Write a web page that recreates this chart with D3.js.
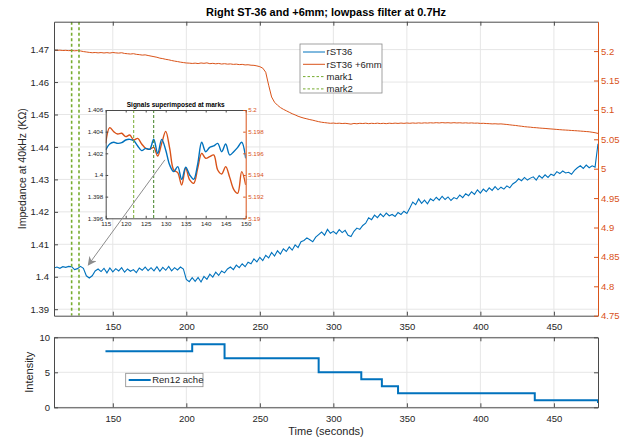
<!DOCTYPE html>
<html><head><meta charset="utf-8">
<script src="https://cdn.jsdelivr.net/npm/d3@7"></script>
<style>body{margin:0;background:#fff}svg{display:block;font-family:"Liberation Sans",Arial,sans-serif}</style>
</head><body><svg id="c" width="634" height="442"></svg>
<script>
// ---------- data ----------
const sampleStart = 110, sampleStep = 2; // seconds
const rST36 = [
1.4027,1.4030,1.4026,1.4031,1.4029,1.4032,1.4031,1.4022,1.4025,1.4032,
1.4026,1.4003,1.3996,1.4003,1.4018,1.4024,1.4016,1.4026,1.4012,1.4027,
1.4015,1.4025,1.4018,1.4028,1.4014,1.4024,1.4017,1.4022,1.4013,1.4027,
1.4020,1.4030,1.4019,1.4028,1.4018,1.4031,1.4017,1.4029,1.4020,1.4032,
1.4018,1.4028,1.4021,1.4030,1.4024,1.3992,1.3985,1.3997,1.3986,1.3998,
1.3984,1.4001,1.3992,1.4008,1.3999,1.4014,1.4004,1.4018,1.4012,1.4024,
1.4030,1.4022,1.4036,1.4028,1.4040,1.4031,1.4045,1.4040,1.4055,1.4046,
1.4060,1.4050,1.4066,1.4058,1.4075,1.4064,1.4080,1.4070,1.4086,1.4078,
1.4092,1.4082,1.4098,1.4090,1.4108,1.4112,1.4120,1.4114,1.4108,1.4122,
1.4130,1.4138,1.4128,1.4146,1.4134,1.4140,1.4132,1.4145,1.4136,1.4143,
1.4128,1.4124,1.4140,1.4150,1.4146,1.4158,1.4165,1.4182,1.4176,1.4190,
1.4182,1.4194,1.4185,1.4196,1.4188,1.4192,1.4186,1.4198,1.4192,1.4202,
1.4195,1.4212,1.4230,1.4222,1.4240,1.4226,1.4236,1.4225,1.4240,1.4234,
1.4245,1.4236,1.4248,1.4238,1.4246,1.4235,1.4244,1.4240,1.4252,1.4244,
1.4256,1.4250,1.4262,1.4254,1.4268,1.4258,1.4270,1.4262,1.4274,1.4266,
1.4278,1.4268,1.4276,1.4270,1.4280,1.4274,1.4286,1.4292,1.4302,1.4296,
1.4306,1.4298,1.4304,1.4308,1.4298,1.4312,1.4304,1.4314,1.4306,1.4316,
1.4312,1.4324,1.4318,1.4326,1.4320,1.4322,1.4316,1.4328,1.4336,1.4342,
1.4334,1.4344,1.4336,1.4342,1.4338,1.4410];
const rST36plus6 = [
5.2015,5.2012,5.2016,5.2010,5.2013,5.2008,5.2011,5.2005,5.2009,5.2003,
5.1992,5.1985,5.1978,5.1972,5.1976,5.1970,5.1975,5.1968,5.1974,5.1967,
5.1976,5.1970,5.1966,5.1972,5.1960,5.1955,5.1950,5.1956,5.1945,5.1940,
5.1932,5.1936,5.1925,5.1915,5.1905,5.1895,5.1880,5.1872,5.1860,5.1852,
5.1840,5.1830,5.1822,5.1812,5.1805,5.1798,5.1795,5.1790,5.1795,5.1788,
5.1798,5.1792,5.1800,5.1786,5.1792,5.1784,5.1790,5.1780,5.1786,5.1778,
5.1782,5.1774,5.1778,5.1770,5.1774,5.1765,5.1768,5.1760,5.1758,5.1748,
5.1735,5.1710,5.1640,5.1420,5.1220,5.1130,5.1080,5.1040,5.1010,5.0985,
5.0960,5.0935,5.0915,5.0892,5.0875,5.0860,5.0848,5.0835,5.0825,5.0812,
5.0800,5.0790,5.0784,5.0778,5.0772,5.0776,5.0770,5.0774,5.0768,5.0772,
5.0766,5.0758,5.0770,5.0764,5.0772,5.0768,5.0774,5.0766,5.0772,5.0768,
5.0774,5.0767,5.0772,5.0766,5.0774,5.0769,5.0775,5.0770,5.0776,5.0771,
5.0777,5.0772,5.0778,5.0773,5.0779,5.0774,5.0780,5.0776,5.0781,5.0777,
5.0783,5.0778,5.0784,5.0779,5.0782,5.0777,5.0783,5.0778,5.0781,5.0776,
5.0780,5.0775,5.0779,5.0774,5.0776,5.0770,5.0772,5.0768,5.0766,5.0762,
5.0764,5.0760,5.0762,5.0757,5.0752,5.0746,5.0740,5.0735,5.0728,5.0722,
5.0715,5.0710,5.0706,5.0700,5.0697,5.0692,5.0688,5.0685,5.0680,5.0676,
5.0672,5.0668,5.0664,5.0660,5.0657,5.0654,5.0650,5.0647,5.0644,5.0640,
5.0636,5.0632,5.0628,5.0620,5.0612,5.0600];

const insetTimes = [115,116,117,118,119,120,121,122,123,124,125,126,127,128,129,130,131,132,133,134,135,136,137,138,139,140,141,142,143,144,145,146,147,148,149,150];
const insetBlue = [1.40231,1.40286,1.40302,1.40292,1.40298,1.40323,1.40329,1.40317,1.40268,1.40225,1.40246,1.40237,1.40330,1.40200,1.40329,1.40231,1.40092,1.40031,1.40077,1.39960,1.40071,1.40000,1.39960,1.40101,1.40302,1.40215,1.40255,1.40268,1.40292,1.40215,1.40286,1.40185,1.40215,1.40255,1.40302,1.40154];
const insetOrange = [5.19692,5.19837,5.19800,5.19778,5.19785,5.19754,5.19769,5.19723,5.19738,5.19686,5.19646,5.19637,5.19655,5.19575,5.19692,5.19803,5.19646,5.19446,5.19422,5.19308,5.19462,5.19354,5.19323,5.19462,5.19600,5.19554,5.19569,5.19585,5.19446,5.19409,5.19477,5.19378,5.19268,5.19231,5.19431,5.19308];

const markTimes = [122,127];
const markNames = ["mark1","mark2"];
const seriesNames = ["rST36","rST36 +6mm"];

const acheTimes = [145,204,226,290,319,333,344,437,480];
const acheLevels = [8,9,7,5,4,3,2,1,0.6];

const xTickVals = [150,200,250,300,350,400,450];
const leftTickVals = [1.39,1.40,1.41,1.42,1.43,1.44,1.45,1.46,1.47];
const rightTickVals = [4.75,4.8,4.85,4.9,4.95,5,5.05,5.1,5.15,5.2];
const insetXTicks = [115,120,125,130,135,140,145,150];
const insetLTicks = [1.396,1.398,1.4,1.402,1.404,1.406];
const insetRTicks = [5.19,5.192,5.194,5.196,5.198,5.2];
const intensityTicks = [0,5,10];

// arrow annotation (data coords: inset start, main end)
const arrowFrom = {t:129.8, v:1.4014};
const arrowTo = {t:133.3, v:1.4036};

// ---------- styles ----------
const BLUE="#0072BD", ORANGE="#D95319", GREEN="#77AC30", DGREEN="#3E7F22";
const AX="#4a4a4a", TXT="#262626", GRID="#e6e6e6";
const fmt = d => String(+d.toFixed(4));

const svg = d3.select("#c");
const defs = svg.append("defs");

// ---------- main panel ----------
const M = {l:54, r:598, t:21.7, b:315.7};
const x = d3.scaleLinear([110,480],[M.l,M.r]);
const yL = d3.scaleLinear([1.388,1.4786],[M.b,M.t]);
const yR = d3.scaleLinear([4.75,5.25],[M.b,M.t]);
const times = rST36.map((_,i)=>sampleStart+i*sampleStep);

defs.append("clipPath").attr("id","cm").append("rect")
  .attr("x",M.l).attr("y",M.t).attr("width",M.r-M.l).attr("height",M.b-M.t);

const grid = svg.append("g");
grid.append("g").selectAll("line").data(xTickVals).join("line")
  .attr("x1",d=>x(d)).attr("x2",d=>x(d)).attr("y1",M.t).attr("y2",M.b).attr("stroke",GRID);
grid.append("g").selectAll("line").data(leftTickVals).join("line")
  .attr("x1",M.l).attr("x2",M.r).attr("y1",d=>yL(d)).attr("y2",d=>yL(d)).attr("stroke",GRID);

const plot = svg.append("g").attr("clip-path","url(#cm)");
plot.append("path").datum(rST36plus6.map((v,i)=>[times[i],v]))
  .attr("fill","none").attr("stroke",ORANGE).attr("stroke-width",1)
  .attr("d",d3.line().x(d=>x(d[0])).y(d=>yR(d[1])));
plot.append("path").datum(rST36.map((v,i)=>[times[i],v]))
  .attr("fill","none").attr("stroke",BLUE).attr("stroke-width",1.1)
  .attr("d",d3.line().x(d=>x(d[0])).y(d=>yL(d[1])));
plot.append("g").selectAll("line").data(markTimes).join("line")
  .attr("x1",d=>x(d)).attr("x2",d=>x(d)).attr("y1",M.t).attr("y2",M.b)
  .attr("stroke",GREEN).attr("stroke-width",1.6).attr("stroke-dasharray","3,2.5");

function styleAxis(g,color,fs){
  g.select(".domain").attr("stroke",color);
  g.selectAll(".tick line").attr("stroke",color);
  g.selectAll(".tick text").attr("fill",color===AX?TXT:color).attr("font-size",fs)
   .attr("font-family","Liberation Sans, Arial, sans-serif");
}
styleAxis(svg.append("g").attr("transform",`translate(0,${M.b})`)
  .call(d3.axisBottom(x).tickValues(xTickVals).tickFormat(fmt).tickSizeInner(-4).tickSizeOuter(0).tickPadding(7.5)),AX,9.5);
styleAxis(svg.append("g").attr("transform",`translate(0,${M.t})`)
  .call(d3.axisTop(x).tickValues(xTickVals).tickFormat("").tickSizeInner(-4).tickSizeOuter(0)),AX,9.5);
styleAxis(svg.append("g").attr("transform",`translate(${M.l},0)`)
  .call(d3.axisLeft(yL).tickValues(leftTickVals).tickFormat(fmt).tickSizeInner(-4).tickSizeOuter(0).tickPadding(5)),AX,9.5);
styleAxis(svg.append("g").attr("transform",`translate(${M.r},0)`)
  .call(d3.axisRight(yR).tickValues(rightTickVals).tickFormat(fmt).tickSizeInner(-4).tickSizeOuter(0).tickPadding(3)),ORANGE,9.5);

svg.append("text").attr("x",326).attr("y",16).attr("text-anchor","middle")
  .attr("font-size",11).attr("font-weight","bold").attr("fill","#000")
  .text("Right ST-36 and +6mm; lowpass filter at 0.7Hz");
svg.append("text").attr("transform",`translate(26,${(M.t+M.b)/2}) rotate(-90)`)
  .attr("text-anchor","middle").attr("font-size",10.5).attr("fill",TXT)
  .text("Impedance at 40kHz (KΩ)");

// main legend
const lg = svg.append("g").attr("transform","translate(300,44)");
lg.append("rect").attr("width",82).attr("height",49).attr("fill","#fff").attr("stroke","#8a8a8a").attr("stroke-width",0.8);
const legItems = [
  {name:seriesNames[0],color:BLUE,dash:null},
  {name:seriesNames[1],color:ORANGE,dash:null},
  {name:markNames[0],color:GREEN,dash:"2.5,2"},
  {name:markNames[1],color:GREEN,dash:"2.5,2"}];
const li = lg.selectAll("g").data(legItems).join("g").attr("transform",(d,i)=>`translate(0,${8+i*12.3})`);
li.append("line").attr("x1",3).attr("x2",25).attr("stroke",d=>d.color).attr("stroke-width",1)
  .attr("stroke-dasharray",d=>d.dash);
li.append("text").attr("x",26.5).attr("y",3.4).attr("font-size",9.5).attr("fill",TXT).text(d=>d.name);

// ---------- inset ----------
const I = {l:105.7, r:245.7, t:110, b:218.3};
const xi = d3.scaleLinear([115,150],[I.l,I.r]);
const yiL = d3.scaleLinear([1.396,1.406],[I.b,I.t]);
const yiR = d3.scaleLinear([5.19,5.2],[I.b,I.t]);
svg.append("rect").attr("x",I.l).attr("y",I.t).attr("width",I.r-I.l).attr("height",I.b-I.t).attr("fill","#fff");
defs.append("clipPath").attr("id","ci").append("rect")
  .attr("x",I.l).attr("y",I.t).attr("width",I.r-I.l).attr("height",I.b-I.t);
const ip = svg.append("g").attr("clip-path","url(#ci)");
ip.append("path").datum(insetOrange.map((v,i)=>[insetTimes[i],v]))
  .attr("fill","none").attr("stroke",ORANGE).attr("stroke-width",1.4)
  .attr("d",d3.line().curve(d3.curveCatmullRom).x(d=>xi(d[0])).y(d=>yiR(d[1])));
ip.append("path").datum(insetBlue.map((v,i)=>[insetTimes[i],v]))
  .attr("fill","none").attr("stroke",BLUE).attr("stroke-width",1.4)
  .attr("d",d3.line().curve(d3.curveCatmullRom).x(d=>xi(d[0])).y(d=>yiL(d[1])));
ip.append("g").selectAll("line").data(markTimes).join("line")
  .attr("x1",d=>xi(d)).attr("x2",d=>xi(d)).attr("y1",I.t).attr("y2",I.b)
  .attr("stroke",(d,i)=>i===0?GREEN:DGREEN).attr("stroke-width",1).attr("stroke-dasharray","3,2");

styleAxis(svg.append("g").attr("transform",`translate(0,${I.b})`)
  .call(d3.axisBottom(xi).tickValues(insetXTicks).tickFormat(fmt).tickSizeInner(-2.5).tickSizeOuter(0).tickPadding(3.8)),AX,6.2);
styleAxis(svg.append("g").attr("transform",`translate(0,${I.t})`)
  .call(d3.axisTop(xi).tickValues(insetXTicks).tickFormat("").tickSizeInner(-2.5).tickSizeOuter(0)),AX,6.2);
styleAxis(svg.append("g").attr("transform",`translate(${I.l},0)`)
  .call(d3.axisLeft(yiL).tickValues(insetLTicks).tickFormat(fmt).tickSizeInner(-2.5).tickSizeOuter(0).tickPadding(2.5)),AX,6.2);
styleAxis(svg.append("g").attr("transform",`translate(${I.r},0)`)
  .call(d3.axisRight(yiR).tickValues(insetRTicks).tickFormat(fmt).tickSizeInner(-2.5).tickSizeOuter(0).tickPadding(2.5)),ORANGE,6.2);
svg.append("text").attr("x",(I.l+I.r)/2).attr("y",I.t-3).attr("text-anchor","middle")
  .attr("font-size",6.5).attr("font-weight","bold").attr("fill","#000").text("Signals superimposed at marks");

// arrow
defs.append("marker").attr("id","ah").attr("viewBox","0 0 10 10").attr("refX",9).attr("refY",5)
  .attr("markerWidth",9).attr("markerHeight",9).attr("markerUnits","userSpaceOnUse").attr("orient","auto")
  .append("path").attr("d","M0,0 L10,5 L0,10 L3,5 Z").attr("fill","#8c8c8c");
svg.append("line")
  .attr("x1",xi(arrowFrom.t)).attr("y1",yiL(arrowFrom.v))
  .attr("x2",x(arrowTo.t)).attr("y2",yL(arrowTo.v))
  .attr("stroke","#8c8c8c").attr("stroke-width",1).attr("marker-end","url(#ah)");

// ---------- bottom panel ----------
const B = {l:54, r:598, t:337.3, b:407.3};
const yB = d3.scaleLinear([0,10],[B.b,B.t]);
const gb = svg.append("g");
gb.append("g").selectAll("line").data(xTickVals).join("line")
  .attr("x1",d=>x(d)).attr("x2",d=>x(d)).attr("y1",B.t).attr("y2",B.b).attr("stroke",GRID);
gb.append("g").selectAll("line").data(intensityTicks).join("line")
  .attr("x1",B.l).attr("x2",B.r).attr("y1",d=>yB(d)).attr("y2",d=>yB(d)).attr("stroke",GRID);
gb.append("path").datum(acheTimes.map((t,i)=>[t,acheLevels[i]]))
  .attr("fill","none").attr("stroke",BLUE).attr("stroke-width",2)
  .attr("d",d3.line().curve(d3.curveStepAfter).x(d=>x(d[0])).y(d=>yB(d[1])));
styleAxis(svg.append("g").attr("transform",`translate(0,${B.b})`)
  .call(d3.axisBottom(x).tickValues(xTickVals).tickFormat(fmt).tickSizeInner(-4).tickSizeOuter(0).tickPadding(7.5)),AX,9.5);
styleAxis(svg.append("g").attr("transform",`translate(0,${B.t})`)
  .call(d3.axisTop(x).tickValues(xTickVals).tickFormat("").tickSizeInner(-4).tickSizeOuter(0)),AX,9.5);
styleAxis(svg.append("g").attr("transform",`translate(${B.l},0)`)
  .call(d3.axisLeft(yB).tickValues(intensityTicks).tickFormat(fmt).tickSizeInner(-4).tickSizeOuter(0).tickPadding(4)),AX,9.5);
styleAxis(svg.append("g").attr("transform",`translate(${B.r},0)`)
  .call(d3.axisRight(yB).tickValues(intensityTicks).tickFormat("").tickSizeInner(-4).tickSizeOuter(0)),AX,9.5);
svg.append("text").attr("transform",`translate(33,${(B.t+B.b)/2}) rotate(-90)`)
  .attr("text-anchor","middle").attr("font-size",11).attr("fill",TXT).text("Intensity");
svg.append("text").attr("x",(B.l+B.r)/2).attr("y",435).attr("text-anchor","middle")
  .attr("font-size",11).attr("fill",TXT).text("Time (seconds)");
const lb = svg.append("g").attr("transform","translate(125.7,373.3)");
lb.append("rect").attr("width",77.3).attr("height",13.4).attr("fill","#fff").attr("stroke","#8a8a8a").attr("stroke-width",0.8);
lb.append("line").attr("x1",3).attr("x2",25).attr("y1",6.7).attr("y2",6.7).attr("stroke",BLUE).attr("stroke-width",2);
lb.append("text").attr("x",26.5).attr("y",10).attr("font-size",9.5).attr("fill",TXT).text("Ren12 ache");
</script></body></html>
